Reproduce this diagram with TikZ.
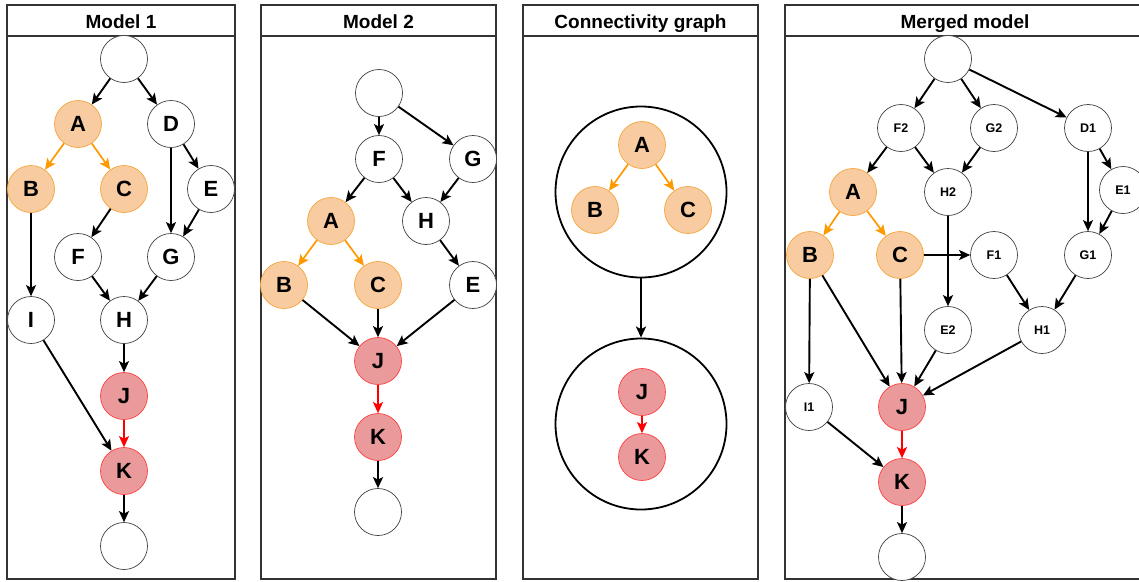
\documentclass[tikz,border=0pt]{standalone}
\usepackage{fontspec}
\setmainfont{Liberation Sans}
\usetikzlibrary{arrows.meta}
\definecolor{orfill}{HTML}{F8CBA0}
\definecolor{ordraw}{HTML}{F5A53C}
\definecolor{orarr}{HTML}{FF9900}
\definecolor{rdfill}{HTML}{EA9A9A}
\definecolor{rddraw}{HTML}{FF4040}
\definecolor{rdarr}{HTML}{FF0000}
\definecolor{frame}{HTML}{333333}

\begin{document}
\begin{tikzpicture}[x=1pt,y=-1pt,
        nd/.style={circle,draw=black!75,line width=0.7pt,fill=white,minimum size=47pt,inner sep=0pt,font=\fontsize{22}{22}\selectfont\bfseries},
        sm/.style={nd,font=\fontsize{12.5}{12.5}\selectfont\bfseries},
        orng/.style={nd,fill=orfill,draw=ordraw},
        rd/.style={nd,fill=rdfill,draw=rddraw},
        arr/.style={-{Stealth[length=11pt,width=10pt,inset=2.5pt]},line width=1.9pt},
        oarr/.style={arr,orarr,line width=1.7pt},
        rarr/.style={arr,rdarr,line width=1.7pt},
        grp/.style={circle,draw,line width=1.8pt,minimum size=171pt,inner sep=0pt},
        ttl/.style={anchor=base,font=\fontsize{19}{19}\selectfont\bfseries},
        panel/.style={frame,line width=1.2pt}]
            \useasboundingbox (0,0) rectangle (1139,581);
            \fill[white] (0,0) rectangle (1139,581);
            \clip (0,0) rectangle (1139,581);

            \draw[panel] (7,5) rectangle (235,579);
            \draw[panel] (7,36)--(235,36);
            \node (t1) at (121,28)[ttl]{Model 1};
            \draw[panel] (261,5) rectangle (496,579);
            \draw[panel] (261,36)--(496,36);
            \node (t2) at (378.5,28)[ttl]{Model 2};
            \draw[panel] (523,5) rectangle (758,579);
            \draw[panel] (523,36)--(758,36);
            \node (t3) at (640.5,28)[ttl]{Connectivity graph};
            \draw[panel] (785,5) rectangle (1145,579);
            \draw[panel] (785,36)--(1145,36);
            \node (t4) at (965,28)[ttl]{Merged model};

            \node (r1) at (124,59)[nd]{};
            \node (A1) at (78,124)[orng]{A};
            \node (D1) at (171,124)[nd]{D};
            \node (B1) at (31,189)[orng]{B};
            \node (C1) at (124,189)[orng]{C};
            \node (E1) at (211,189)[nd]{E};
            \node (F1) at (78,257)[nd]{F};
            \node (G1) at (171,257)[nd]{G};
            \node (I1) at (31,320)[nd]{I};
            \node (H1) at (124,320)[nd]{H};
            \node (J1) at (124,396)[rd]{J};
            \node (K1) at (124,471)[rd]{K};
            \node (s1) at (124,546)[nd]{};
            \draw[arr] (r1)--(A1);
            \draw[arr] (r1)--(D1);
            \draw[oarr] (A1)--(B1);
            \draw[oarr] (A1)--(C1);
            \draw[arr] (D1)--(E1);
            \draw[arr] (D1)--(G1);
            \draw[arr] (E1)--(G1);
            \draw[arr] (C1)--(F1);
            \draw[arr] (B1)--(I1);
            \draw[arr] (F1)--(H1);
            \draw[arr] (G1)--(H1);
            \draw[arr] (H1)--(J1);
            \draw[rarr] (J1)--(K1);
            \draw[arr] (I1)--(K1);
            \draw[arr] (K1)--(s1);

            \node (r2) at (379,93)[nd]{};
            \node (F2) at (379,159)[nd]{F};
            \node (G2) at (473,159)[nd]{G};
            \node (A2) at (331,221)[orng]{A};
            \node (H2) at (426,221)[nd]{H};
            \node (B2) at (284,285)[orng]{B};
            \node (C2) at (378,285)[orng]{C};
            \node (E2) at (473,285)[nd]{E};
            \node (J2) at (378,361)[rd]{J};
            \node (K2) at (378,437)[rd]{K};
            \node (s2) at (378,512)[nd]{};
            \draw[arr] (r2)--(F2);
            \draw[arr] (r2)--(G2);
            \draw[arr] (F2)--(A2);
            \draw[arr] (F2)--(H2);
            \draw[arr] (G2)--(H2);
            \draw[arr] (H2)--(E2);
            \draw[oarr] (A2)--(B2);
            \draw[oarr] (A2)--(C2);
            \draw[arr] (B2)--(J2);
            \draw[arr] (C2)--(J2);
            \draw[arr] (E2)--(J2);
            \draw[rarr] (J2)--(K2);
            \draw[arr] (K2)--(s2);

            \node (up3) at (641,192)[grp]{};
            \node (lo3) at (641,424)[grp]{};
            \draw[arr,line width=2.3pt] (up3)--(lo3);
            \node (A3) at (642,145)[orng]{A};
            \node (B3) at (595,210)[orng]{B};
            \node (C3) at (688,210)[orng]{C};
            \node (J3) at (642,392)[rd]{J};
            \node (K3) at (642,457)[rd]{K};
            \draw[oarr] (A3)--(B3);
            \draw[oarr] (A3)--(C3);
            \draw[rarr] (J3)--(K3);

            \node (rM) at (948,59)[nd]{};
            \node (F2M) at (901,128)[sm]{F2};
            \node (G2M) at (994,128)[sm]{G2};
            \node (D1M) at (1088,128)[sm]{D1};
            \node (AM) at (853,192)[orng]{A};
            \node (H2M) at (948,192)[sm]{H2};
            \node (E1M) at (1123,190)[sm]{E1};
            \node (BM) at (810,255)[orng]{B};
            \node (CM) at (900,255)[orng]{C};
            \node (F1M) at (994,255)[sm]{F1};
            \node (G1M) at (1088,255)[sm]{G1};
            \node (E2M) at (948,330)[sm]{E2};
            \node (H1M) at (1042,330)[sm]{H1};
            \node (I1M) at (809,407)[sm]{I1};
            \node (JM) at (902,407)[rd]{J};
            \node (KM) at (902,482)[rd]{K};
            \node (sM) at (902,557)[nd]{};
            \draw[arr] (rM)--(F2M);
            \draw[arr] (rM)--(G2M);
            \draw[arr] (rM)--(D1M);
            \draw[arr] (F2M)--(AM);
            \draw[arr] (F2M)--(H2M);
            \draw[arr] (G2M)--(H2M);
            \draw[arr] (D1M)--(E1M);
            \draw[arr] (D1M)--(G1M);
            \draw[arr] (E1M)--(G1M);
            \draw[oarr] (AM)--(BM);
            \draw[oarr] (AM)--(CM);
            \draw[arr] (H2M)--(E2M);
            \draw[arr] (CM)--(F1M);
            \draw[arr] (F1M)--(H1M);
            \draw[arr] (G1M)--(H1M);
            \draw[arr] (BM)--(I1M);
            \draw[arr] (BM)--(JM);
            \draw[arr] (CM)--(JM);
            \draw[arr] (E2M)--(JM);
            \draw[arr] (H1M)--(JM);
            \draw[arr] (I1M)--(KM);
            \draw[rarr] (JM)--(KM);
            \draw[arr] (KM)--(sM);
        \end{tikzpicture}
\end{document}
